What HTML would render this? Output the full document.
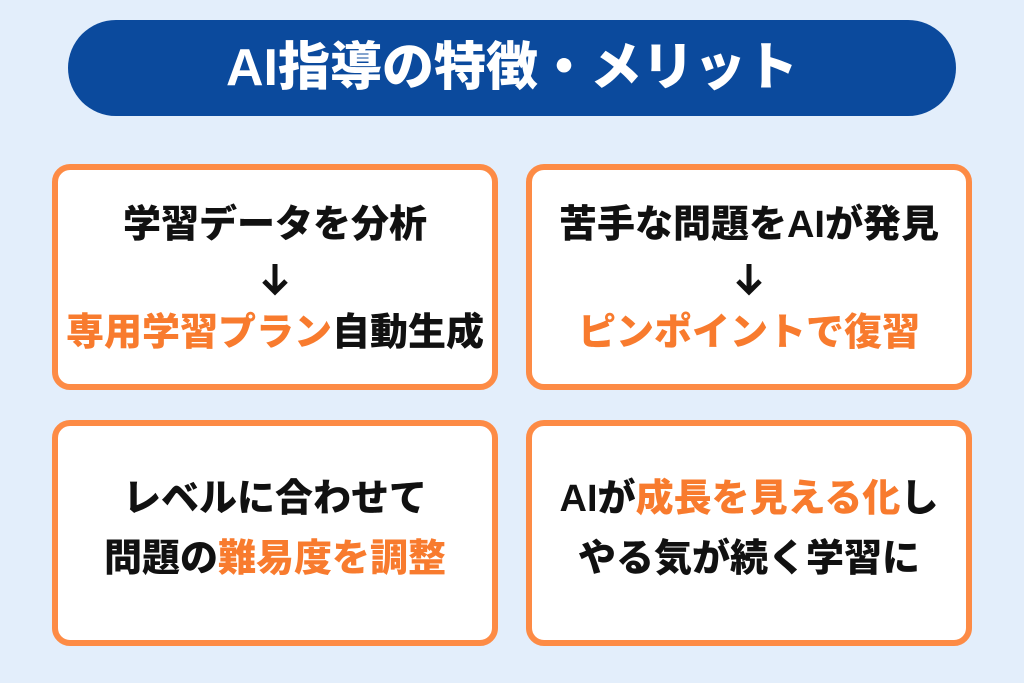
<!DOCTYPE html>
<html><head><meta charset="utf-8"><style>
body{margin:0;width:1024px;height:683px;background:#e3eefb;position:relative;overflow:hidden;font-family:"Liberation Sans","Noto Sans CJK JP",sans-serif;font-weight:900}
.hdr{position:absolute;left:68px;top:20px;width:888px;height:96px;border-radius:48px;background:#0b4a9d;color:#fff;font-size:52px;text-align:center;line-height:96px;font-weight:900}
.card{position:absolute;width:434px;height:214px;border:6px solid #fd8b45;border-radius:18px;background:#fff;box-sizing:content-box}
.t{position:absolute;left:0;right:0;text-align:center;font-size:38px;color:#111;white-space:nowrap;font-weight:900}
.o{color:#f87b2e}
.ar{position:absolute;left:50%;top:92px;margin-left:-14px}
</style></head><body>
<div class="hdr">AI指導の特徴・メリット</div>
<div class="card" style="left:52px;top:164px">
 <div class="t" style="top:23px">学習データを分析</div>
 <svg class="ar" width="28" height="34" viewBox="0 0 28 34"><path d="M14 2V30M3 19L14 30L25 19" stroke="#111" stroke-width="5" fill="none"/></svg>
 <div class="t" style="top:131px"><span class="o">専用学習プラン</span>自動生成</div>
</div>
<div class="card" style="left:526px;top:164px">
 <div class="t" style="top:23px">苦手な問題をAIが発見</div>
 <svg class="ar" width="28" height="34" viewBox="0 0 28 34"><path d="M14 2V30M3 19L14 30L25 19" stroke="#111" stroke-width="5" fill="none"/></svg>
 <div class="t" style="top:131px"><span class="o">ピンポイントで復習</span></div>
</div>
<div class="card" style="left:52px;top:420px">
 <div class="t" style="top:41px">レベルに合わせて</div>
 <div class="t" style="top:101px">問題の<span class="o">難易度を調整</span></div>
</div>
<div class="card" style="left:526px;top:420px">
 <div class="t" style="top:41px">AIが<span class="o">成長を見える化</span>し</div>
 <div class="t" style="top:101px">やる気が続く学習に</div>
</div>
</body></html>
